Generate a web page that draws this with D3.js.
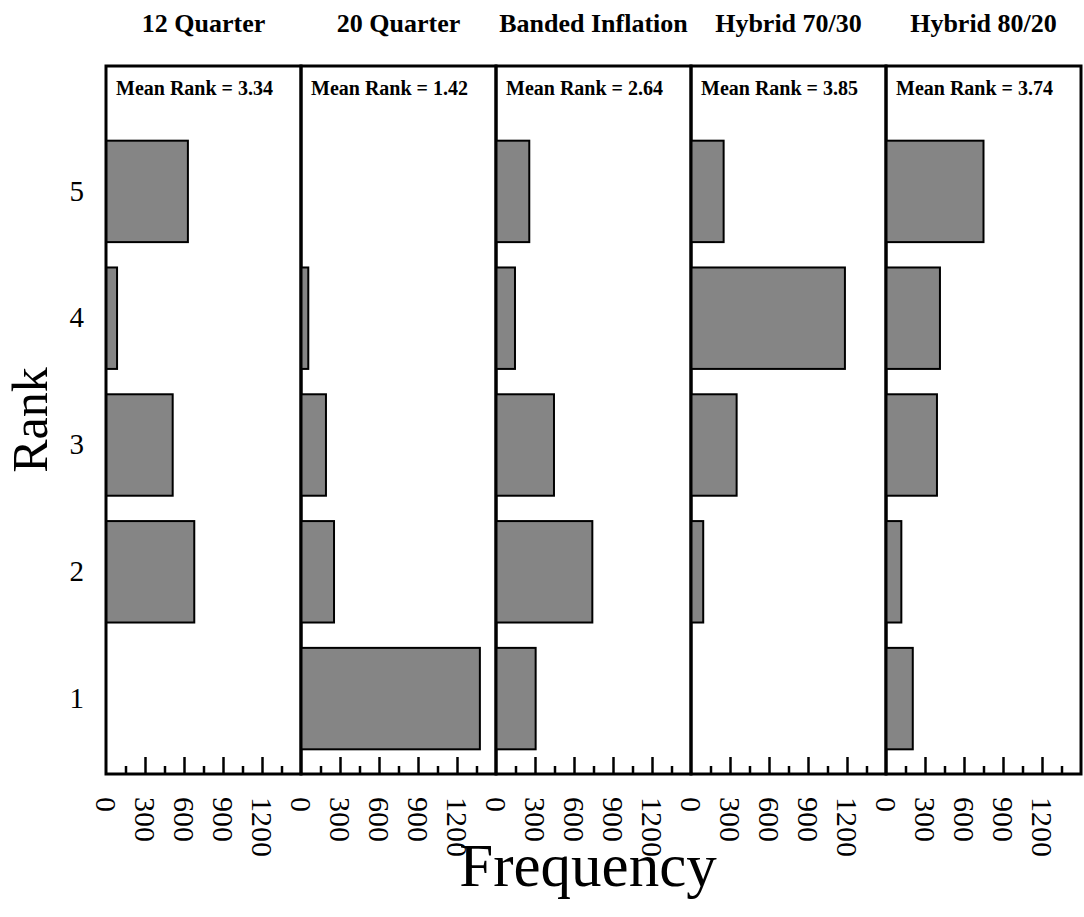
<!DOCTYPE html>
<html>
<head>
<meta charset="utf-8">
<script src="https://cdn.jsdelivr.net/npm/d3@7"></script>
<style>
body { margin: 0; background: #fff; }
text { font-family: "Liberation Serif", "Times New Roman", serif; }
</style>
</head>
<body>
<svg width="1084" height="917"></svg>
<script>
// chart data
var schemes = ["12 Quarter", "20 Quarter", "Banded Inflation", "Hybrid 70/30", "Hybrid 80/20"];
var meanRanks = ["3.34", "1.42", "2.64", "3.85", "3.74"];
var ranks = [1, 2, 3, 4, 5];
// frequency per rank (rank 1..5)
var freq12Quarter = [0, 679, 513, 85, 630];
var freq20Quarter = [1376, 254, 192, 56, 0];
var freqBanded = [305, 741, 446, 146, 256];
var freqHybrid7030 = [0, 94, 351, 1184, 251];
var freqHybrid8020 = [206, 118, 392, 415, 750];
var majorTicks = [0, 300, 600, 900, 1200];
var minorTicks = [150, 450, 750, 1050, 1350];

var freqs = [freq12Quarter, freq20Quarter, freqBanded, freqHybrid7030, freqHybrid8020];

var svg = d3.select("svg");
var plotLeft = 106, panelW = 195, plotTop = 66, plotBottom = 774;

var yScale = d3.scaleBand()
  .domain([5, 4, 3, 2, 1])
  .range([128, 762])
  .paddingInner(0.2)
  .paddingOuter(0.1);

var xScale = d3.scaleLinear().domain([0, 1500]).range([0, panelW]);

schemes.forEach(function(name, i) {
  var x0 = plotLeft + i * panelW;
  var g = svg.append("g").attr("transform", "translate(" + x0 + ",0)");

  var data = ranks.map(function(r, j) { return {rank: r, value: freqs[i][j]}; })
    .filter(function(d) { return d.value > 0; });

  g.selectAll("rect.bar")
    .data(data)
    .enter()
    .append("rect")
    .attr("class", "bar")
    .attr("x", 0)
    .attr("y", function(d) { return yScale(d.rank); })
    .attr("width", function(d) { return xScale(d.value); })
    .attr("height", yScale.bandwidth())
    .attr("fill", "#858585")
    .attr("stroke", "#000")
    .attr("stroke-width", 2);

  // minor ticks
  var minorAxis = d3.axisBottom(xScale).tickValues(minorTicks).tickSize(-8).tickFormat("");
  var ma = g.append("g").attr("transform", "translate(0," + plotBottom + ")").call(minorAxis);
  ma.select(".domain").remove();
  ma.selectAll("line").attr("stroke", "#000").attr("stroke-width", 2.5);

  // major ticks with rotated labels
  var majorAxis = d3.axisBottom(xScale).tickValues(majorTicks).tickSize(-17).tickFormat(d3.format("d"));
  var mj = g.append("g").attr("transform", "translate(0," + plotBottom + ")").call(majorAxis);
  mj.select(".domain").remove();
  mj.selectAll("line").attr("stroke", "#000").attr("stroke-width", 2.5)
    .filter(function(d) { return d === 0; }).remove();
  mj.selectAll("text")
    .attr("transform", "rotate(90)")
    .attr("x", 23)
    .attr("y", 0)
    .attr("dy", "0.35em")
    .attr("text-anchor", "start")
    .attr("fill", "#000")
    .style("font-family", "'Liberation Serif', serif")
    .style("font-size", "30px");

  // panel frame
  g.append("rect")
    .attr("x", 0)
    .attr("y", plotTop)
    .attr("width", panelW)
    .attr("height", plotBottom - plotTop)
    .attr("fill", "none")
    .attr("stroke", "#000")
    .attr("stroke-width", 3);

  g.append("text")
    .attr("x", panelW / 2)
    .attr("y", 32)
    .attr("text-anchor", "middle")
    .style("font-size", "26px")
    .style("font-weight", "bold")
    .text(name);

  g.append("text")
    .attr("x", 10)
    .attr("y", 95)
    .style("font-size", "20px")
    .style("font-weight", "bold")
    .text("Mean Rank = " + meanRanks[i]);
});

// rank axis labels
var yAxis = d3.axisLeft(yScale).tickSize(0).tickPadding(22);
var ya = svg.append("g").attr("transform", "translate(" + plotLeft + ",0)").call(yAxis);
ya.select(".domain").remove();
ya.selectAll("text")
  .attr("fill", "#000")
  .style("font-family", "'Liberation Serif', serif")
  .style("font-size", "29px");

svg.append("text")
  .attr("transform", "translate(47,420) rotate(-90)")
  .attr("text-anchor", "middle")
  .style("font-size", "50px")
  .text("Rank");

svg.append("text")
  .attr("x", 588)
  .attr("y", 886)
  .attr("text-anchor", "middle")
  .style("font-size", "61px")
  .text("Frequency");
</script>
</body>
</html>
